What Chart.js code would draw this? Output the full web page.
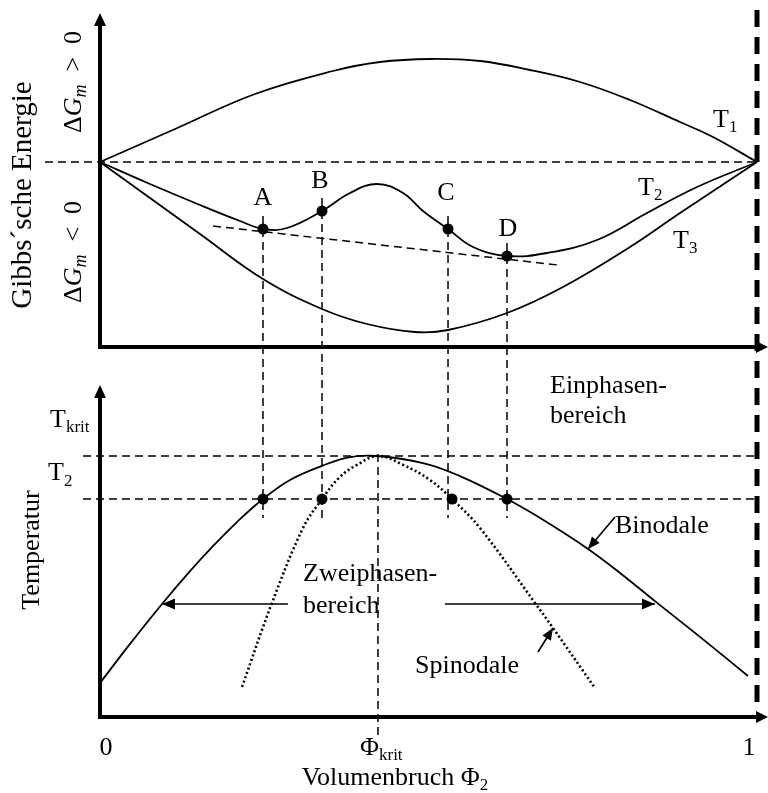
<!DOCTYPE html>
<html>
<head>
<meta charset="utf-8">
<script src="https://cdn.jsdelivr.net/npm/chart.js@4/dist/chart.umd.min.js"></script>
<style>
  html, body { margin: 0; padding: 0; background: #fff; }
  canvas { display: block; }
</style>
</head>
<body>
<canvas id="c" width="768" height="793"></canvas>
<script>
// ---- Gibbs energy of mixing vs. volume fraction Φ2 at T1 > T2 > T3 ----
const phiT1 = [0, 0.1142, 0.2359, 0.3546, 0.4262, 0.5023, 0.5784, 0.6545, 0.7306, 0.8067, 0.8828, 0.9330, 1];
const gT1   = [0, 0.33, 0.68, 0.91, 1.00, 1.03, 1.01, 0.92, 0.80, 0.62, 0.40, 0.25, 0];

const phiT2 = [0, 0.0761, 0.1522, 0.2131, 0.2481, 0.2846, 0.3379, 0.3805, 0.4216, 0.4612,
               0.4916, 0.5297, 0.5677, 0.6195, 0.6804, 0.7565, 0.8326, 0.9087, 1];
const gT2   = [0, -0.22, -0.43, -0.59, -0.67, -0.66, -0.49, -0.31, -0.22, -0.31,
               -0.49, -0.67, -0.85, -0.94, -0.91, -0.78, -0.51, -0.25, 0];

const phiT3 = [0, 0.0761, 0.1522, 0.2481, 0.3379, 0.4064, 0.4795, 0.5297, 0.6195, 0.7047, 0.8067, 0.8828, 1];
const gT3   = [0, -0.36, -0.72, -1.17, -1.47, -1.62, -1.70, -1.68, -1.51, -1.25, -0.85, -0.51, 0];

// common tangent through A and D
const phiTangent = [0.172, 0.697];
const gTangent   = [-0.64, -1.03];

// marked compositions on the T2 curve
const pointNames = ['A', 'B', 'C', 'D'];
const phiPoints  = [0.2481, 0.3379, 0.5297, 0.6195];
const gPoints    = [-0.67, -0.49, -0.67, -0.94];

// ---- phase diagram (temperature in units of T_krit) ----
const phiBinodal = [0, 0.0457, 0.0944, 0.1370, 0.1705, 0.2085, 0.2481, 0.2892, 0.3379, 0.3805, 0.4231,
                    0.4947, 0.5479, 0.6195, 0.6773, 0.7428, 0.7915, 0.8447, 0.9132, 0.9863];
const tBinodal   = [0.130, 0.280, 0.433, 0.559, 0.651, 0.747, 0.835, 0.908, 0.962, 0.996, 1.0,
                    0.971, 0.923, 0.835, 0.751, 0.644, 0.552, 0.444, 0.307, 0.157];

const phiSpinodal = [0.2161, 0.2618, 0.3090, 0.3379, 0.3653, 0.3912, 0.4231,
                     0.4612, 0.5023, 0.5358, 0.5784, 0.6621, 0.6895, 0.7534];
const tSpinodal   = [0.115, 0.437, 0.724, 0.835, 0.920, 0.966, 1.0,
                     0.966, 0.908, 0.835, 0.724, 0.437, 0.341, 0.111];

const tKrit = 1.0;
const t2 = 0.835;
const phiKrit = 0.4231;
const phiPhaseDots = [0.2481, 0.3379, 0.5358, 0.6195];

// axis tick labels (base text, subscript)
const xTickValues = [0, phiKrit, 1];
const xTickLabels = [['0', ''], ['\u03A6', 'krit'], ['1', '']];
const tTickValues = [tKrit, t2];
const tTickLabels = [['T', 'krit'], ['T', '2']];

// axis extents
const gAxisMin = -1.85, gAxisTip = 1.49;
const tAxisMin = 0, tAxisTip = 1.272;

const SERIF = '"Liberation Serif", "Times New Roman", serif';
const F_MAIN = '26px ' + SERIF;
const F_SUB = '17px ' + SERIF;
const F_ITAL = 'italic 26px ' + SERIF;

function pts(xs, ys) { return xs.map((x, i) => ({ x: x, y: ys[i] })); }

// draws a run of text pieces: [text, font, dy]
function rich(ctx, parts, x, y, align) {
  let w = 0;
  parts.forEach(p => { ctx.font = p[1]; w += ctx.measureText(p[0]).width; });
  let cx = align === 'center' ? x - w / 2 : (align === 'right' ? x - w : x);
  ctx.textAlign = 'left';
  parts.forEach(p => {
    ctx.font = p[1];
    ctx.fillText(p[0], cx, y + (p[2] || 0));
    cx += ctx.measureText(p[0]).width;
  });
}

function arrow(ctx, x1, y1, x2, y2, len, half) {
  ctx.beginPath(); ctx.moveTo(x1, y1); ctx.lineTo(x2, y2); ctx.stroke();
  const a = Math.atan2(y2 - y1, x2 - x1);
  ctx.beginPath();
  ctx.moveTo(x2, y2);
  ctx.lineTo(x2 - len * Math.cos(a) + half * Math.sin(a), y2 - len * Math.sin(a) - half * Math.cos(a));
  ctx.lineTo(x2 - len * Math.cos(a) - half * Math.sin(a), y2 - len * Math.sin(a) + half * Math.cos(a));
  ctx.closePath(); ctx.fill();
}

const framePlugin = {
  id: 'frame',
  beforeDatasetsDraw(chart) {
    const ctx = chart.ctx;
    const xs = chart.scales.x, yG = chart.scales.yG, yT = chart.scales.yT;
    const X = v => xs.getPixelForValue(v);
    const x0 = X(0), x1 = X(1);
    ctx.save();
    ctx.strokeStyle = '#000'; ctx.fillStyle = '#000';

    // reference dashed lines
    ctx.lineWidth = 1.5; ctx.setLineDash([8, 5]);
    ctx.beginPath(); ctx.moveTo(x0 - 55, yG.getPixelForValue(0)); ctx.lineTo(x1, yG.getPixelForValue(0)); ctx.stroke();
    tTickValues.forEach(t => {
      ctx.beginPath(); ctx.moveTo(x0 - 17, yT.getPixelForValue(t)); ctx.lineTo(x1, yT.getPixelForValue(t)); ctx.stroke();
    });
    // tangent-point connectors down to the T2 isotherm
    phiPoints.forEach((p, i) => {
      ctx.beginPath();
      ctx.moveTo(X(p), yG.getPixelForValue(gPoints[i]) - 13);
      ctx.lineTo(X(p), yT.getPixelForValue(t2) + 19);
      ctx.stroke();
    });
    // critical composition
    ctx.beginPath();
    ctx.moveTo(X(phiKrit), yT.getPixelForValue(tKrit) - 2);
    ctx.lineTo(X(phiKrit), yT.getPixelForValue(0) + 22);
    ctx.stroke();

    // pure component boundary at Φ2 = 1
    ctx.lineWidth = 5; ctx.setLineDash([17, 10]);
    ctx.beginPath(); ctx.moveTo(x1, 10); ctx.lineTo(x1, yT.getPixelForValue(0) - 5); ctx.stroke();
    ctx.setLineDash([]);

    // axes with arrow heads
    ctx.lineWidth = 4;
    const panels = [
      [yG.getPixelForValue(gAxisMin), yG.getPixelForValue(gAxisTip)],
      [yT.getPixelForValue(tAxisMin), yT.getPixelForValue(tAxisTip)]
    ];
    panels.forEach(([yb, ytop]) => {
      ctx.beginPath();
      ctx.moveTo(x0, ytop + 10); ctx.lineTo(x0, yb); ctx.lineTo(x1 + 2, yb);
      ctx.stroke();
      ctx.beginPath(); ctx.moveTo(x0, ytop); ctx.lineTo(x0 - 6, ytop + 13); ctx.lineTo(x0 + 6, ytop + 13); ctx.closePath(); ctx.fill();
      ctx.beginPath(); ctx.moveTo(x1 + 11, yb); ctx.lineTo(x1 - 1, yb - 6); ctx.lineTo(x1 - 1, yb + 6); ctx.closePath(); ctx.fill();
    });
    ctx.restore();
  },
  afterDatasetsDraw(chart) {
    const ctx = chart.ctx;
    const xs = chart.scales.x, yG = chart.scales.yG, yT = chart.scales.yT;
    const X = v => xs.getPixelForValue(v);
    ctx.save();
    ctx.fillStyle = '#000'; ctx.strokeStyle = '#000';
    ctx.textBaseline = 'alphabetic';

    // region arrows in the two-phase area, ending on the binodal
    ctx.lineWidth = 1.6;
    const yArr = yT.getPixelForValue(tBinodal[2]);
    arrow(ctx, X(0.286), yArr, X(phiBinodal[2]), yArr, 13, 5.5);
    arrow(ctx, X(0.525), yArr, X(phiBinodal[17]), yArr, 13, 5.5);
    // curve pointers
    const bx = X(phiBinodal[15]), by = yT.getPixelForValue(tBinodal[15]);
    arrow(ctx, bx + 27, by - 32, bx, by, 12, 5);
    const sx = X(phiSpinodal[12]), sy = yT.getPixelForValue(tSpinodal[12]);
    arrow(ctx, sx - 15, sy + 24, sx, sy, 12, 5);

    // point letters
    const letterOffset = [[0, -24], [-2, -23], [-2, -29], [1, -20]];
    pointNames.forEach((n, i) => {
      ctx.font = F_MAIN; ctx.textAlign = 'center';
      ctx.fillText(n, X(phiPoints[i]) + letterOffset[i][0], yG.getPixelForValue(gPoints[i]) + letterOffset[i][1]);
    });

    // isotherm labels
    rich(ctx, [['T', F_MAIN], ['1', F_SUB, 5]], 713, 127, 'left');
    rich(ctx, [['T', F_MAIN], ['2', F_SUB, 5]], 638, 195, 'left');
    rich(ctx, [['T', F_MAIN], ['3', F_SUB, 5]], 673, 248, 'left');

    // temperature tick labels
    rich(ctx, [[tTickLabels[0][0], F_MAIN], [tTickLabels[0][1], F_SUB, 5]], 50, 427, 'left');
    rich(ctx, [[tTickLabels[1][0], F_MAIN], [tTickLabels[1][1], F_SUB, 6]], 48, 480, 'left');

    // region and curve names
    rich(ctx, [['Einphasen-', F_MAIN]], 550, 393, 'left');
    rich(ctx, [['bereich', F_MAIN]], 550, 423, 'left');
    rich(ctx, [['Zweiphasen-', F_MAIN]], 303, 581, 'left');
    rich(ctx, [['bereich', F_MAIN]], 303, 613, 'left');
    rich(ctx, [['Spinodale', F_MAIN]], 415, 673, 'left');
    rich(ctx, [['Binodale', F_MAIN]], 615, 533, 'left');

    // x tick labels
    xTickValues.forEach((v, i) => {
      const lab = xTickLabels[i];
      if (lab[1]) rich(ctx, [[lab[0], F_MAIN], [lab[1], F_SUB, 5]], X(v) - 18, 755, 'left');
      else rich(ctx, [[lab[0], F_MAIN]], X(v) + (v === 0 ? 6 : -8), 755, 'center');
    });
    rich(ctx, [['Volumenbruch \u03A6', F_MAIN], ['2', F_SUB, 5]], 395, 785, 'center');

    // rotated axis titles
    const vert = (parts, cx, cy) => {
      ctx.save(); ctx.translate(cx, cy); ctx.rotate(-Math.PI / 2);
      rich(ctx, parts, 0, 9, 'center');
      ctx.restore();
    };
    vert([['Gibbs\u00B4sche Energie', '29px ' + SERIF]], 22, 195);
    vert([['Temperatur', F_MAIN]], 30, 550);
    vert([['\u0394', F_MAIN], ['G', F_ITAL], ['m', 'italic 18px ' + SERIF, 5], ['  >  0', F_MAIN]], 72, 82);
    vert([['\u0394', F_MAIN], ['G', F_ITAL], ['m', 'italic 18px ' + SERIF, 5], ['  <  0', F_MAIN]], 72, 252);
    ctx.restore();
  }
};

const curve = (data, axis, extra) => Object.assign({
  data: data, yAxisID: axis, borderColor: '#000', borderWidth: 1.8,
  pointRadius: 0, fill: false, tension: 0.4, clip: false
}, extra || {});
const dots = (data, axis) => ({
  data: data, yAxisID: axis, showLine: false, pointRadius: 5.5,
  pointBackgroundColor: '#000', pointBorderColor: '#000', pointBorderWidth: 0, clip: false
});

new Chart(document.getElementById('c'), {
  type: 'line',
  data: {
    datasets: [
      curve(pts(phiT1, gT1), 'yG'),
      curve(pts(phiT2, gT2), 'yG'),
      curve(pts(phiT3, gT3), 'yG'),
      curve(pts(phiTangent, gTangent), 'yG', { borderWidth: 1.5, borderDash: [8, 5], tension: 0 }),
      dots(pts(phiPoints, gPoints), 'yG'),
      curve(pts(phiBinodal, tBinodal), 'yT'),
      curve(pts(phiSpinodal, tSpinodal), 'yT', { borderWidth: 2.6, borderDash: [2, 2.6] }),
      dots(pts(phiPhaseDots, phiPhaseDots.map(() => t2)), 'yT')
    ]
  },
  options: {
    responsive: false,
    animation: false,
    devicePixelRatio: 1,
    layout: { padding: { left: 100, right: 11, top: 15, bottom: 76 } },
    plugins: { legend: { display: false }, tooltip: { enabled: false } },
    scales: {
      x: { type: 'linear', min: 0, max: 1, display: false },
      yG: { type: 'linear', min: -5.55, max: 1.47, display: false },
      yT: { type: 'linear', min: 0, max: 2.6897, display: false }
    }
  },
  plugins: [framePlugin]
});
</script>
</body>
</html>
